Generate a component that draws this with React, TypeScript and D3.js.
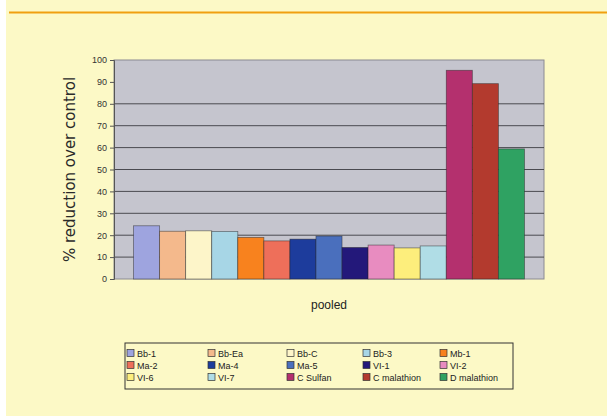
import { useEffect, useRef } from "react";
import * as d3 from "d3";

const GROUPS = ["pooled"];
const SERIES = [
  "Bb-1", "Bb-Ea", "Bb-C", "Bb-3", "Mb-1",
  "Ma-2", "Ma-4", "Ma-5", "VI-1", "VI-2",
  "VI-6", "VI-7", "C Sulfan", "C malathion", "D malathion",
];
const VALUES = [24.3, 21.8, 22, 21.7, 19, 17.4, 18.2, 19.6, 14.4, 15.5, 14.2, 15.1, 95.3, 89.2, 59.4];
const COLORS = [
  "#9ea4df", "#f4b98c", "#fdf5c9", "#a7d6e6", "#f8821e",
  "#ee6f5a", "#1d3c9c", "#4a6fbd", "#23187a", "#e88cc0",
  "#fdee7c", "#b0dde6", "#b4306e", "#b33a2e", "#2fa262",
];
const Y_TICKS = [0, 10, 20, 30, 40, 50, 60, 70, 80, 90, 100];
const GRID_TICKS = [10, 20, 30, 40, 50, 60, 70, 80];

export default function App() {
  const svgRef = useRef<SVGSVGElement | null>(null);

  useEffect(() => {
    if (!svgRef.current) return;
    const W = 607, H = 416;
    const plot = { left: 114, top: 60, right: 544, bottom: 279 };

    const svg = d3.select(svgRef.current);
    svg.selectAll("*").remove();

    // page background: white strip on the left, pale yellow panel
    svg.append("rect").attr("width", W).attr("height", H).attr("fill", "#ffffff");
    svg.append("rect").attr("x", 6).attr("width", W - 6).attr("height", H).attr("fill", "#fcf9c6");
    svg.append("rect").attr("x", 9).attr("y", 11.5).attr("width", W - 9).attr("height", 2).attr("fill", "#f0a010");

    const y = d3.scaleLinear().domain([0, 100]).range([plot.bottom, plot.top]);
    const xOuter = d3.scaleBand().domain(GROUPS).range([plot.left, plot.right]).paddingInner(0).paddingOuter(0.05);
    const xInner = d3.scaleBand().domain(SERIES).range([0, xOuter.bandwidth()]).padding(0);

    // plot area
    svg.append("rect")
      .attr("x", plot.left).attr("y", plot.top)
      .attr("width", plot.right - plot.left).attr("height", plot.bottom - plot.top)
      .attr("fill", "#c5c5ce").attr("stroke", "#8a8a92").attr("stroke-width", 1);

    svg.append("g").selectAll("line").data(GRID_TICKS).join("line")
      .attr("x1", plot.left).attr("x2", plot.right)
      .attr("y1", (d) => y(d)).attr("y2", (d) => y(d))
      .attr("stroke", "#4a4a50").attr("stroke-width", 1);

    // bars
    const gx = xOuter("pooled") ?? 0;
    svg.append("g").selectAll("rect").data(SERIES).join("rect")
      .attr("x", (d) => gx + (xInner(d) ?? 0))
      .attr("y", (_, i) => y(VALUES[i]))
      .attr("width", xInner.bandwidth())
      .attr("height", (_, i) => plot.bottom - y(VALUES[i]))
      .attr("fill", (_, i) => COLORS[i])
      .attr("stroke", "#222").attr("stroke-width", 0.8).attr("stroke-opacity", 0.55);

    // y axis
    const axis = svg.append("g").attr("transform", `translate(${plot.left},0)`)
      .call(d3.axisLeft(y).tickValues(Y_TICKS).tickSize(4).tickPadding(3));
    axis.select(".domain").attr("stroke", "#555");
    axis.selectAll(".tick line").attr("stroke", "#555");
    axis.selectAll("text").attr("font-family", "Arial, 'Liberation Sans', sans-serif")
      .attr("font-size", 9).attr("fill", "#333");

    svg.append("text")
      .attr("transform", `translate(75,${(plot.top + plot.bottom) / 2}) rotate(-90)`)
      .attr("text-anchor", "middle")
      .attr("font-family", "'DejaVu Sans', sans-serif").attr("font-size", 15).attr("fill", "#2a2a2a")
      .text("% reduction over control");

    svg.append("text")
      .attr("x", gx + xOuter.bandwidth() / 2).attr("y", 309)
      .attr("text-anchor", "middle")
      .attr("font-family", "Arial, 'Liberation Sans', sans-serif").attr("font-size", 12).attr("fill", "#222")
      .text("pooled");

    // legend
    const leg = { x: 125, y: 343, w: 388, h: 46 };
    svg.append("rect").attr("x", leg.x).attr("y", leg.y).attr("width", leg.w).attr("height", leg.h)
      .attr("fill", "none").attr("stroke", "#333").attr("stroke-width", 1);
    const colX = [127, 208, 287, 363, 440];
    const rowY = [353, 365, 377];
    SERIES.forEach((s, i) => {
      const cx = colX[i % 5], cy = rowY[Math.floor(i / 5)];
      svg.append("rect").attr("x", cx).attr("y", cy - 3.5).attr("width", 7).attr("height", 7)
        .attr("fill", COLORS[i]).attr("stroke", "#333").attr("stroke-width", 0.7);
      svg.append("text").attr("x", cx + 10).attr("y", cy + 3.5)
        .attr("font-family", "Arial, 'Liberation Sans', sans-serif").attr("font-size", 9).attr("fill", "#222")
        .text(s);
    });
  }, []);

  return (
    <div style={{ position: "absolute", left: 0, top: 0 }}>
      <svg ref={svgRef} width={607} height={416} style={{ display: "block" }} />
    </div>
  );
}
